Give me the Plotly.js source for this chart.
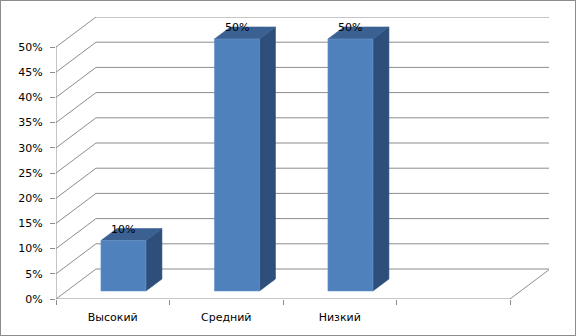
<!DOCTYPE html>
<html>
<head>
<meta charset="utf-8">
<script src="https://cdn.plot.ly/plotly-3.0.1.min.js"></script>
<style>
  html, body { margin: 0; padding: 0; background: #fff; }
  #wrap { position: relative; width: 576px; height: 336px; }
  #chart { position: absolute; left: 0; top: 0; width: 576px; height: 336px; }
  #frame { position: absolute; left: 0; top: 0; width: 576px; height: 336px; box-sizing: border-box; border: 1px solid #8c8c8c; pointer-events: none; }
</style>
</head>
<body>
<div id="wrap"><div id="chart"></div><div id="frame"></div></div>
<script>
// ---- data ----
const categories = ['Высокий', 'Средний', 'Низкий'];
const values = [10, 50, 50];
const valueLabels = ['10%', '50%', '50%'];
const yTicks = [0, 5, 10, 15, 20, 25, 30, 35, 40, 45, 50];
const yTickLabels = ['0%', '5%', '10%', '15%', '20%', '25%', '30%', '35%', '40%', '45%', '50%'];

// ---- geometry (pseudo-3D projection in axis units) ----
const slots = 4;                 // category slots on the floor (last one empty)
const slotPx = 113.5, pctPx = 5.04;
const plotW = 493, plotH = 282;
const dX = 40 / slotPx;          // depth offset in x units
const dY = 30 / pctPx;           // depth offset in y units
const f1 = 0.267, f2 = 0.667;    // bar front / back depth fractions
const barW = 45 / slotPx;
const yMax = yTicks[yTicks.length - 1];

const gridColor = '#8c8c8c';
const frontCol = '#4F81BD', topCol = '#3B6193', sideCol = '#2E4F7B';
const fontFam = 'DejaVu Sans', fontSize = 11;

const traces = [];
function line(xs, ys, color, width) {
  traces.push({type: 'scatter', mode: 'lines', x: xs, y: ys, hoverinfo: 'skip',
    line: {color: color, width: width || 1}, showlegend: false});
}
function poly(xs, ys, fill, lineColor) {
  traces.push({type: 'scatter', mode: 'lines', x: xs.concat([xs[0]]), y: ys.concat([ys[0]]),
    fill: 'toself', fillcolor: fill, hoverinfo: 'skip',
    line: {color: lineColor || fill, width: 0.6}, showlegend: false});
}

// walls: left wall diagonals + back wall lines
yTicks.forEach(v => {
  line([0, dX, slots + dX], [v, v + dY, v + dY], gridColor, 1);
});
// floor front edge and right diagonal
line([0, slots, slots + dX], [0, 0, dY], gridColor, 1);
// front value axis line
line([0, 0], [0, yMax], gridColor, 1);

// bars
const annotations = [];
values.forEach((v, i) => {
  const cx = i + 0.5 + f1 * dX;
  const xl = cx - barW / 2, xr = cx + barW / 2;
  const yb = f1 * dY, yt = v + f1 * dY;
  const ddx = (f2 - f1) * dX, ddy = (f2 - f1) * dY;
  poly([xr, xr, xr + ddx, xr + ddx], [yb, yt, yt + ddy, yb + ddy], sideCol);
  poly([xl, xr, xr + ddx, xl + ddx], [yt, yt, yt + ddy, yt + ddy], topCol);
  poly([xl, xr, xr, xl], [yb, yb, yt, yt], frontCol, '#6a95c9');
  annotations.push({x: cx, y: yt, xref: 'x', yref: 'y', text: valueLabels[i],
    showarrow: false, yanchor: 'bottom', yshift: 3,
    font: {family: fontFam, size: fontSize, color: '#000'}});
});

const layout = {
  width: 576, height: 336,
  margin: {l: 56, r: 576 - 56 - plotW, t: 336 - 37 - plotH, b: 37, pad: 0},
  paper_bgcolor: '#fff', plot_bgcolor: 'rgba(0,0,0,0)',
  font: {family: fontFam, size: fontSize, color: '#000'},
  showlegend: false,
  xaxis: {
    range: [0, plotW / slotPx], showgrid: false, zeroline: false, showline: false,
    tickvals: categories.map((c, i) => i + 0.5), ticktext: categories,
    ticks: '', ticklabelstandoff: 10, fixedrange: true,
    minor: {ticks: 'outside', ticklen: 5, tickcolor: gridColor, tick0: 0, dtick: 1, showgrid: false}
  },
  yaxis: {
    range: [0, plotH / pctPx], showgrid: false, zeroline: false, showline: false,
    tickvals: yTicks, ticktext: yTickLabels, ticks: 'outside', ticklen: 5,
    tickcolor: gridColor, ticklabelstandoff: 5, fixedrange: true
  },
  annotations: annotations
};

Plotly.newPlot('chart', traces, layout, {staticPlot: true, displayModeBar: false});
</script>
</body>
</html>
